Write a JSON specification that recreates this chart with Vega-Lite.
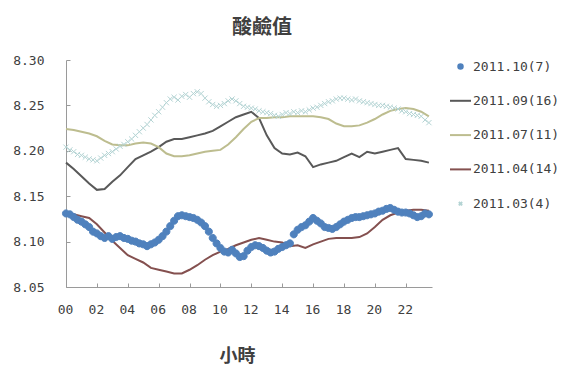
{
  "$schema": "https://vega.github.io/schema/vega-lite/v6.json",
  "width": 366,
  "height": 227,
  "autosize": {"type": "none"},
  "padding": {"left": 66, "top": 60, "right": 134, "bottom": 81},
  "background": "white",
  "title": {
    "text": "酸鹼值",
    "font": "Noto Sans CJK TC",
    "fontSize": 20,
    "fontWeight": "bold",
    "color": "#404040",
    "anchor": "middle",
    "frame": "group",
    "dx": 13,
    "offset": 16
  },
  "config": {
    "view": {"stroke": null},
    "axis": {
      "grid": false,
      "domainColor": "#9a9a9a",
      "tickColor": "#9a9a9a",
      "labelColor": "#404040",
      "labelFont": "DejaVu Sans Mono",
      "labelFontSize": 13,
      "labelFlush": false
    }
  },
  "data": {
    "values": [
      {"h": 0, "a": 8.131, "b": 8.187, "c": 8.224, "d": 8.131, "e": 8.204},
      {"h": 0.25, "a": 8.130, "e": 8.201},
      {"h": 0.5, "a": 8.127, "b": 8.180, "c": 8.223, "d": 8.130, "e": 8.199},
      {"h": 0.75, "a": 8.124, "e": 8.196},
      {"h": 1, "a": 8.122, "b": 8.172, "c": 8.221, "d": 8.128, "e": 8.195},
      {"h": 1.25, "a": 8.119, "e": 8.193},
      {"h": 1.5, "a": 8.116, "b": 8.164, "c": 8.219, "d": 8.126, "e": 8.191},
      {"h": 1.75, "a": 8.111, "e": 8.190},
      {"h": 2, "a": 8.109, "b": 8.157, "c": 8.216, "d": 8.119, "e": 8.189},
      {"h": 2.25, "a": 8.106, "e": 8.192},
      {"h": 2.5, "a": 8.104, "b": 8.158, "c": 8.211, "d": 8.110, "e": 8.195},
      {"h": 2.75, "a": 8.106, "e": 8.197},
      {"h": 3, "a": 8.103, "b": 8.166, "c": 8.207, "d": 8.101, "e": 8.199},
      {"h": 3.25, "a": 8.105, "e": 8.202},
      {"h": 3.5, "a": 8.106, "b": 8.173, "c": 8.206, "d": 8.093, "e": 8.205},
      {"h": 3.75, "a": 8.104, "e": 8.207},
      {"h": 4, "a": 8.103, "b": 8.182, "c": 8.206, "d": 8.085, "e": 8.210},
      {"h": 4.25, "a": 8.101, "e": 8.213},
      {"h": 4.5, "a": 8.100, "b": 8.191, "c": 8.208, "d": 8.081, "e": 8.217},
      {"h": 4.75, "a": 8.098, "e": 8.221},
      {"h": 5, "a": 8.097, "b": 8.195, "c": 8.209, "d": 8.077, "e": 8.225},
      {"h": 5.25, "a": 8.095, "e": 8.229},
      {"h": 5.5, "a": 8.097, "b": 8.199, "c": 8.208, "d": 8.071, "e": 8.234},
      {"h": 5.75, "a": 8.099, "e": 8.239},
      {"h": 6, "a": 8.102, "b": 8.204, "c": 8.204, "d": 8.069, "e": 8.243},
      {"h": 6.25, "a": 8.106, "e": 8.248},
      {"h": 6.5, "a": 8.111, "b": 8.210, "c": 8.197, "d": 8.067, "e": 8.253},
      {"h": 6.75, "a": 8.117, "e": 8.257},
      {"h": 7, "a": 8.123, "b": 8.213, "c": 8.194, "d": 8.065, "e": 8.259},
      {"h": 7.25, "a": 8.128, "e": 8.256},
      {"h": 7.5, "a": 8.129, "b": 8.213, "c": 8.194, "d": 8.065, "e": 8.260},
      {"h": 7.75, "a": 8.128, "e": 8.262},
      {"h": 8, "a": 8.127, "b": 8.215, "c": 8.195, "d": 8.069, "e": 8.259},
      {"h": 8.25, "a": 8.126, "e": 8.263},
      {"h": 8.5, "a": 8.124, "b": 8.217, "c": 8.197, "d": 8.074, "e": 8.265},
      {"h": 8.75, "a": 8.121, "e": 8.263},
      {"h": 9, "a": 8.117, "b": 8.219, "c": 8.199, "d": 8.080, "e": 8.258},
      {"h": 9.25, "a": 8.111, "e": 8.254},
      {"h": 9.5, "a": 8.104, "b": 8.222, "c": 8.200, "d": 8.085, "e": 8.251},
      {"h": 9.75, "a": 8.098, "e": 8.249},
      {"h": 10, "a": 8.093, "b": 8.227, "c": 8.201, "d": 8.089, "e": 8.250},
      {"h": 10.25, "a": 8.089, "e": 8.252},
      {"h": 10.5, "a": 8.088, "b": 8.232, "c": 8.207, "d": 8.092, "e": 8.255},
      {"h": 10.75, "a": 8.091, "e": 8.257},
      {"h": 11, "a": 8.087, "b": 8.237, "c": 8.215, "d": 8.096, "e": 8.255},
      {"h": 11.25, "a": 8.083, "e": 8.252},
      {"h": 11.5, "a": 8.084, "b": 8.240, "c": 8.224, "d": 8.099, "e": 8.249},
      {"h": 11.75, "a": 8.090, "e": 8.248},
      {"h": 12, "a": 8.094, "b": 8.243, "c": 8.232, "d": 8.102, "e": 8.247},
      {"h": 12.25, "a": 8.096, "e": 8.246},
      {"h": 12.5, "a": 8.095, "b": 8.236, "c": 8.236, "d": 8.104, "e": 8.244},
      {"h": 12.75, "a": 8.093, "e": 8.243},
      {"h": 13, "a": 8.090, "b": 8.217, "c": 8.236, "d": 8.102, "e": 8.242},
      {"h": 13.25, "a": 8.088, "e": 8.241},
      {"h": 13.5, "a": 8.089, "b": 8.203, "c": 8.237, "d": 8.100, "e": 8.239},
      {"h": 13.75, "a": 8.092, "e": 8.238},
      {"h": 14, "a": 8.094, "b": 8.197, "c": 8.237, "d": 8.099, "e": 8.240},
      {"h": 14.25, "a": 8.096, "e": 8.242},
      {"h": 14.5, "a": 8.098, "b": 8.196, "c": 8.238, "d": 8.095, "e": 8.241},
      {"h": 14.75, "a": 8.108, "e": 8.243},
      {"h": 15, "a": 8.113, "b": 8.198, "c": 8.238, "d": 8.096, "e": 8.242},
      {"h": 15.25, "a": 8.116, "e": 8.244},
      {"h": 15.5, "a": 8.118, "b": 8.194, "c": 8.238, "d": 8.093, "e": 8.243},
      {"h": 15.75, "a": 8.122, "e": 8.245},
      {"h": 16, "a": 8.126, "b": 8.182, "c": 8.238, "d": 8.097, "e": 8.247},
      {"h": 16.25, "a": 8.123, "e": 8.248},
      {"h": 16.5, "a": 8.120, "b": 8.185, "c": 8.237, "d": 8.100, "e": 8.250},
      {"h": 16.75, "a": 8.116, "e": 8.252},
      {"h": 17, "a": 8.115, "b": 8.187, "c": 8.235, "d": 8.103, "e": 8.254},
      {"h": 17.25, "a": 8.114, "e": 8.255},
      {"h": 17.5, "a": 8.116, "b": 8.189, "c": 8.230, "d": 8.104, "e": 8.257},
      {"h": 17.75, "a": 8.119, "e": 8.258},
      {"h": 18, "a": 8.122, "b": 8.193, "c": 8.227, "d": 8.104, "e": 8.258},
      {"h": 18.25, "a": 8.124, "e": 8.257},
      {"h": 18.5, "a": 8.126, "b": 8.197, "c": 8.227, "d": 8.104, "e": 8.256},
      {"h": 18.75, "a": 8.127, "e": 8.257},
      {"h": 19, "a": 8.127, "b": 8.193, "c": 8.228, "d": 8.105, "e": 8.255},
      {"h": 19.25, "a": 8.128, "e": 8.254},
      {"h": 19.5, "a": 8.129, "b": 8.199, "c": 8.231, "d": 8.109, "e": 8.253},
      {"h": 19.75, "a": 8.130, "e": 8.252},
      {"h": 20, "a": 8.131, "b": 8.197, "c": 8.235, "d": 8.116, "e": 8.251},
      {"h": 20.25, "a": 8.133, "e": 8.250},
      {"h": 20.5, "a": 8.134, "b": 8.199, "c": 8.240, "d": 8.124, "e": 8.250},
      {"h": 20.75, "a": 8.136, "e": 8.249},
      {"h": 21, "a": 8.137, "b": 8.201, "c": 8.244, "d": 8.129, "e": 8.248},
      {"h": 21.25, "a": 8.135, "e": 8.247},
      {"h": 21.5, "a": 8.133, "b": 8.203, "c": 8.246, "d": 8.132, "e": 8.246},
      {"h": 21.75, "a": 8.132, "e": 8.244},
      {"h": 22, "a": 8.132, "b": 8.191, "c": 8.247, "d": 8.134, "e": 8.243},
      {"h": 22.25, "a": 8.131, "e": 8.241},
      {"h": 22.5, "a": 8.129, "b": 8.190, "c": 8.246, "d": 8.135, "e": 8.240},
      {"h": 22.75, "a": 8.127, "e": 8.239},
      {"h": 23, "a": 8.128, "b": 8.189, "c": 8.243, "d": 8.135, "e": 8.238},
      {"h": 23.25, "a": 8.131, "e": 8.234},
      {"h": 23.5, "a": 8.130, "b": 8.187, "c": 8.238, "d": 8.134, "e": 8.231}
    ]
  },
  "transform": [
    {"fold": ["a", "b", "c", "d", "e"], "as": ["s", "v"]},
    {"filter": "isValid(datum.v)"}
  ],
  "encoding": {
    "x": {
      "field": "h",
      "type": "quantitative",
      "scale": {"domain": [0, 23.7], "nice": false, "zero": false},
      "axis": {
        "values": [0, 2, 4, 6, 8, 10, 12, 14, 16, 18, 20, 22],
        "labelExpr": "datum.value < 10 ? '0' + datum.value : '' + datum.value",
        "tickSize": -4,
        "labelPadding": 20,
        "labelOffset": -1,
        "title": "小時",
        "titleFont": "Noto Sans CJK TC",
        "titleFontSize": 18,
        "titleFontWeight": "bold",
        "titleColor": "#404040",
        "titleX": 171,
        "titleY": 60,
        "titleAlign": "center",
        "titleBaseline": "top"
      }
    },
    "y": {
      "field": "v",
      "type": "quantitative",
      "scale": {"domain": [8.05, 8.30], "nice": false, "zero": false},
      "axis": {
        "values": [8.05, 8.10, 8.15, 8.20, 8.25, 8.30],
        "format": ".2f",
        "tickSize": -4,
        "labelPadding": 26,
        "title": null
      }
    }
  },
  "layer": [
    {
      "transform": [{"filter": "datum.s == 'b' || datum.s == 'c' || datum.s == 'd'"}],
      "mark": {"type": "line", "strokeWidth": 2},
      "encoding": {
        "color": {
          "field": "s",
          "type": "nominal",
          "scale": {
            "domain": ["b", "c", "d"],
            "range": ["#595959", "#bdbd8f", "#84504f"]
          },
          "legend": null
        }
      }
    },
    {
      "transform": [{"filter": "datum.s == 'a' || datum.s == 'e'"}],
      "mark": {"type": "point", "size": 560, "strokeWidth": 1, "opacity": 1},
      "encoding": {
        "shape": {
          "field": "s",
          "type": "nominal",
          "scale": {
            "domain": ["a", "b", "c", "d", "e"],
            "range": [
              "M-0.3,0A0.3,0.3 0 1,0 0.3,0A0.3,0.3 0 1,0 -0.3,0Z",
              "M-1.4,0L1.4,0",
              "M-1.4,0L1.4,0",
              "M-1.4,0L1.4,0",
              "M-0.22,-0.22L0.22,0.22M0.22,-0.22L-0.22,0.22"
            ]
          },
          "legend": {
            "title": null,
            "orient": "none",
            "legendX": 386,
            "legendY": -2,
            "symbolSize": 225,
            "symbolStrokeWidth": 2,
            "rowPadding": 18.3,
            "labelOffset": 4,
            "labelFont": "DejaVu Sans Mono",
            "labelFontSize": 13,
            "labelColor": "#404040",
            "labelExpr": "datum.label == 'a' ? '2011.10(7)' : datum.label == 'b' ? '2011.09(16)' : datum.label == 'c' ? '2011.07(11)' : datum.label == 'd' ? '2011.04(14)' : '2011.03(4)'"
          }
        },
        "fill": {
          "field": "s",
          "type": "nominal",
          "scale": {
            "domain": ["a", "b", "c", "d", "e"],
            "range": ["#4f81bd", "#595959", "#bdbd8f", "#84504f", "#b4d4d4"]
          },
          "legend": {
            "title": null,
            "orient": "none",
            "legendX": 386,
            "legendY": -2,
            "symbolSize": 225,
            "symbolStrokeWidth": 2,
            "rowPadding": 18.3,
            "labelOffset": 4,
            "labelFont": "DejaVu Sans Mono",
            "labelFontSize": 13,
            "labelColor": "#404040",
            "labelExpr": "datum.label == 'a' ? '2011.10(7)' : datum.label == 'b' ? '2011.09(16)' : datum.label == 'c' ? '2011.07(11)' : datum.label == 'd' ? '2011.04(14)' : '2011.03(4)'"
          }
        },
        "stroke": {
          "field": "s",
          "type": "nominal",
          "scale": {
            "domain": ["a", "b", "c", "d", "e"],
            "range": ["#4f81bd", "#595959", "#bdbd8f", "#84504f", "#b4d4d4"]
          },
          "legend": {
            "title": null,
            "orient": "none",
            "legendX": 386,
            "legendY": -2,
            "symbolSize": 225,
            "symbolStrokeWidth": 2,
            "rowPadding": 18.3,
            "labelOffset": 4,
            "labelFont": "DejaVu Sans Mono",
            "labelFontSize": 13,
            "labelColor": "#404040",
            "labelExpr": "datum.label == 'a' ? '2011.10(7)' : datum.label == 'b' ? '2011.09(16)' : datum.label == 'c' ? '2011.07(11)' : datum.label == 'd' ? '2011.04(14)' : '2011.03(4)'"
          }
        }
      }
    }
  ]
}
